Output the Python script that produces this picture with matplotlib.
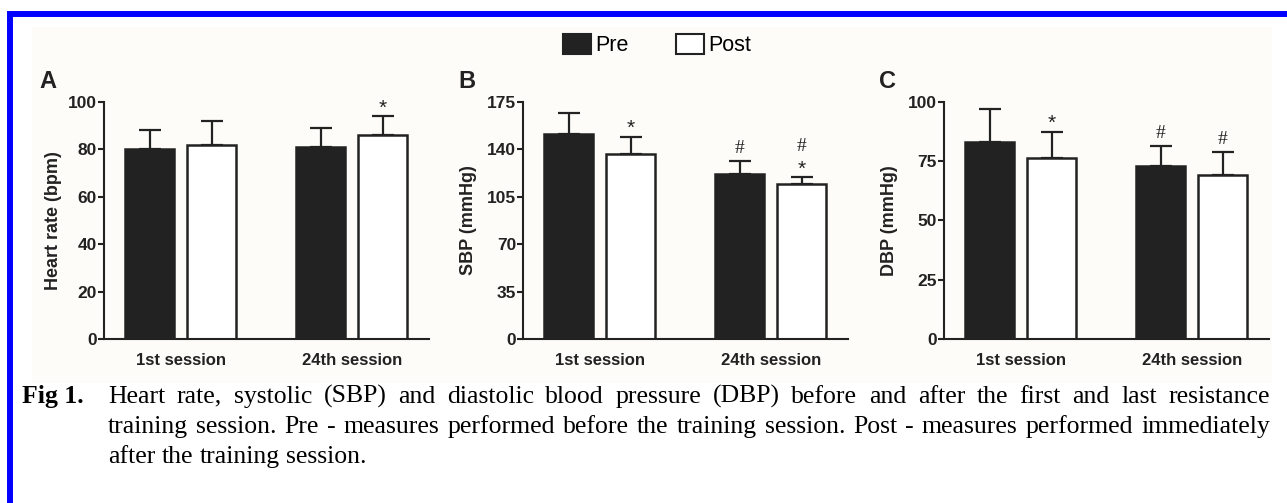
import numpy as np
import matplotlib
matplotlib.use('Agg')
import matplotlib.pyplot as plt
from matplotlib.patches import Patch, Rectangle

#### DATA ####
sessions = ['1st session', '24th session']

hr_pre = [80, 81]
hr_pre_sd = [8, 8]
hr_post = [82, 86]
hr_post_sd = [10, 8]

sbp_pre = [151.5, 122]
sbp_pre_sd = [15.5, 9.5]
sbp_post = [136.5, 114.5]
sbp_post_sd = [13, 5]

dbp_pre = [83, 73]
dbp_pre_sd = [14, 8.5]
dbp_post = [76.5, 69]
dbp_post_sd = [11, 10]

# significance marks: (session index, 'pre'/'post', symbol, stack level)
hr_marks = [(1, 'post', '*', 0)]
sbp_marks = [(0, 'post', '*', 0), (1, 'pre', '#', 0), (1, 'post', '*', 0), (1, 'post', '#', 1)]
dbp_marks = [(0, 'post', '*', 0), (1, 'pre', '#', 0), (1, 'post', '#', 0)]

caption_lines = [
    "Heart rate, systolic (SBP) and diastolic blood pressure (DBP) before and after the first and last resistance",
    "training session. Pre - measures performed before the training session. Post - measures performed immediately",
    "after the training session.",
]

#### LAYOUT ####
W, H = 1287, 503
fig = plt.figure(figsize=(W / 100, H / 100), dpi=100)
plt.rcParams['font.family'] = ['Liberation Sans', 'DejaVu Sans']

def px(x, y):
    return x / W, 1 - y / H

# cream panel background and blue frame
fig.add_artist(Rectangle(px(32, 383), (1272 - 32) / W, (383 - 27) / H,
                         transform=fig.transFigure, facecolor='#fdfcf8', edgecolor='none', zorder=0))
fig.add_artist(Rectangle(px(10, 560), 1400 / W, (560 - 14) / H, transform=fig.transFigure,
                         facecolor='none', edgecolor='#0000ff', linewidth=4.3, zorder=5))

ink = '#222222'
offset = 0.63
centers = np.array([0.0, 3.49])


def panel(left_px, pre, pre_sd, post, post_sd, ymax, step, ylabel, letter, marks, lab_x):
    l, b = px(left_px, 339)
    ax = fig.add_axes([l, b, 325 / W, (339 - 102) / H])
    ax.patch.set_alpha(0)
    xs_pre = centers - offset
    xs_post = centers + offset
    ax.bar(xs_pre, pre, width=1.0, color=ink, edgecolor=ink, linewidth=1.8, zorder=2)
    ax.bar(xs_post, post, width=1.0, color='white', edgecolor=ink, linewidth=1.8, zorder=2)
    for xs, m, sd in [(xs_pre, pre, pre_sd), (xs_post, post, post_sd)]:
        ax.errorbar(xs, m, yerr=[np.zeros(len(sd)), sd], fmt='none', ecolor=ink,
                    elinewidth=1.6, capsize=8, capthick=1.6, zorder=1)

    for i, which, sym, level in marks:
        if which == 'pre':
            x, top = xs_pre[i], pre[i] + pre_sd[i]
        else:
            x, top = xs_post[i], post[i] + post_sd[i]
        if sym == '*':
            fam, size, off = 'Liberation Sans', 15, 6
        else:
            fam, size, off = 'Liberation Serif', 14, 9
        ax.annotate(sym, (x, top), xytext=(0, off + 13 * level), textcoords='offset points',
                    ha='center', va='center', fontsize=size, family=fam, color=ink)

    ax.set_xlim(-1.566, 5.066)
    ax.set_ylim(0, ymax)
    ax.set_yticks(np.arange(0, ymax + 1, step))
    ax.set_xticks(centers, sessions)
    for s in ['top', 'right']:
        ax.spines[s].set_visible(False)
    for s in ['left', 'bottom']:
        ax.spines[s].set_linewidth(1.5)
        ax.spines[s].set_color(ink)
    ax.tick_params(axis='y', length=4, width=1.5, color=ink, pad=1, labelsize=12.5)
    ax.tick_params(axis='x', length=0, pad=10, labelsize=12)
    for t in ax.get_xticklabels() + ax.get_yticklabels():
        t.set_fontweight('bold')
        t.set_color(ink)
    ax.set_ylabel(ylabel, fontsize=13, fontweight='bold', color=ink)
    ax.yaxis.set_label_coords(lab_x, 0.5)
    fig.text(*px(left_px - 56, 82), letter, fontsize=17, fontweight='bold', ha='center', va='center', color=ink)
    return ax


panel(104, hr_pre, hr_pre_sd, hr_post, hr_post_sd, 100, 20, 'Heart rate (bpm)', 'A', hr_marks, -0.129)
panel(523, sbp_pre, sbp_pre_sd, sbp_post, sbp_post_sd, 175, 35, 'SBP (mmHg)', 'B', sbp_marks, -0.141)
panel(944, dbp_pre, dbp_pre_sd, dbp_post, dbp_post_sd, 100, 25, 'DBP (mmHg)', 'C', dbp_marks, -0.142)

# legend
handles = [Patch(facecolor=ink, edgecolor=ink, linewidth=1.5, label='Pre'),
           Patch(facecolor='white', edgecolor=ink, linewidth=1.5, label='Post')]
fig.legend(handles=handles, loc='center', bbox_to_anchor=px(657, 45), ncol=2, frameon=False,
           fontsize=15.5, handlelength=1.3, handleheight=1.1, handletextpad=0.2, columnspacing=2.2)

#### CAPTION ####
renderer = fig.canvas.get_renderer()
cap_size = 18.5
fig.text(*px(22, 403), 'Fig 1.', family='Liberation Serif', fontweight='bold',
         fontsize=cap_size, va='baseline', ha='left')


def justify_line(text, x0, x1, y, stretch=True):
    words = text.split(' ')
    objs = [fig.text(*px(x0, y), w, family='Liberation Serif', fontsize=cap_size,
                     va='baseline', ha='left') for w in words]
    widths = [o.get_window_extent(renderer).width for o in objs]
    if stretch:
        gap = (x1 - x0 - sum(widths)) / (len(words) - 1)
    else:
        gap = cap_size * 100 / 72 * 0.25
    x = x0
    for o, w in zip(objs, widths):
        o.set_position(px(x, y))
        x += w + gap


justify_line(caption_lines[0], 108, 1270, 403)
justify_line(caption_lines[1], 108, 1270, 433)
justify_line(caption_lines[2], 108, 1270, 463, stretch=False)

fig.savefig('out.png', dpi=100, facecolor='white')
